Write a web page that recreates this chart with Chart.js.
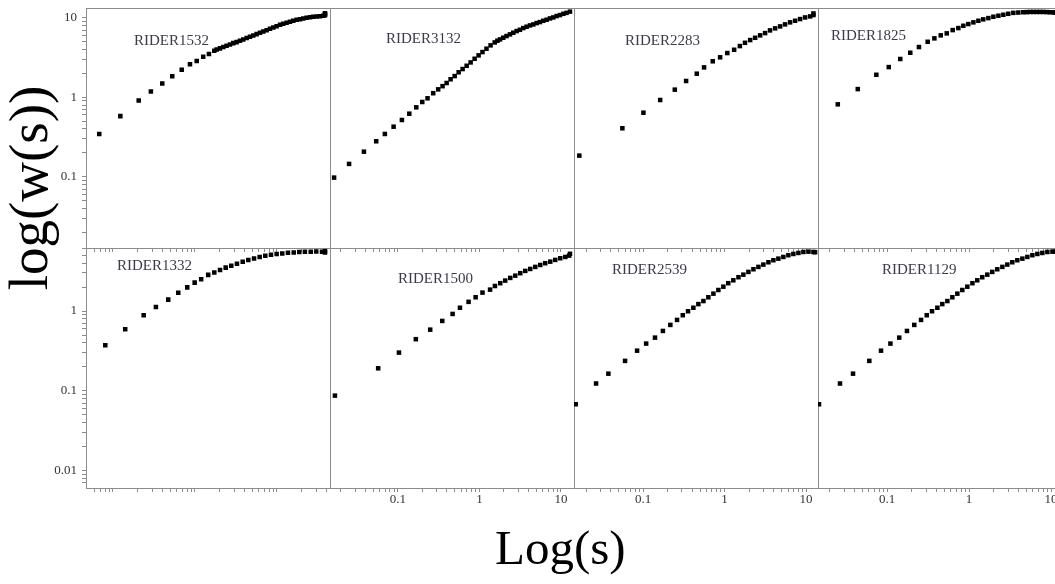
<!DOCTYPE html>
<html lang="en">
<head>
<meta charset="UTF-8">
<title>log(w(s)) vs Log(s)</title>
<script src="https://cdn.jsdelivr.net/npm/chart.js"></script>
<style>
  html, body { margin: 0; padding: 0; background: #fff; }
  body { width: 1055px; height: 584px; position: relative; overflow: hidden; font-family: 'Liberation Serif', 'DejaVu Serif', serif; }
  canvas { position: absolute; }
  .rider { position: absolute; font-size: 15px; line-height: 1; color: #3b3b48; white-space: nowrap; }
  #ytitle { position: absolute; left: 28px; top: 188px; font-size: 55px; line-height: 1; white-space: nowrap;
            transform: translate(-50%, -50%) rotate(-90deg); }
  #xtitle { position: absolute; left: 495px; top: 523px; font-size: 49px; line-height: 1; white-space: nowrap; }
</style>
</head>
<body>
<div id="ytitle">log(w(s))</div>
<div id="xtitle">Log(s)</div>
<script>
// --- data: s (x) and w(s) (y) per rider ---
const s1532 = [0.068,0.123,0.206,0.29,0.399,0.528,0.689,0.869,1.05,1.26,1.48,1.72,1.84,2.02,2.22,2.43,2.67,2.93,3.22,3.54,3.88,4.27,4.69,5.14,5.65,6.21,6.81,7.48,8.22,9.02,9.91,10.9,11.9,13.1,14.4,15.8,17.4,19.1,20.9,23.0,25.3,27.7,30.5,33.4,36.7,38.5,38.5,38.5];
const w1532 = [0.345,0.58,0.91,1.18,1.49,1.84,2.23,2.6,2.87,3.25,3.51,3.86,4.01,4.13,4.29,4.46,4.63,4.81,4.95,5.15,5.35,5.56,5.78,6.01,6.24,6.49,6.75,7.0,7.28,7.57,7.86,8.17,8.41,8.66,8.91,9.17,9.44,9.62,9.81,10.0,10.2,10.3,10.4,10.5,10.6,10.8,11.1,11.4];

const s3132 = [0.0165,0.0252,0.0383,0.0542,0.0692,0.0886,0.112,0.138,0.168,0.199,0.231,0.271,0.312,0.353,0.396,0.443,0.497,0.556,0.622,0.697,0.780,0.873,0.977,1.09,1.22,1.37,1.54,1.66,1.79,1.96,2.15,2.37,2.60,2.86,3.14,3.45,3.79,4.17,4.58,5.03,5.52,6.07,6.67,7.33,8.05,8.85,9.72,10.7,11.7,12.9];
const w3132 = [0.097,0.144,0.205,0.277,0.342,0.422,0.512,0.614,0.738,0.861,0.958,1.11,1.24,1.36,1.49,1.66,1.82,2.03,2.23,2.45,2.70,3.0,3.31,3.64,4.01,4.42,4.81,5.05,5.25,5.51,5.78,6.07,6.36,6.68,6.93,7.28,7.57,7.86,8.09,8.41,8.66,8.99,9.26,9.62,9.9,10.3,10.6,11.0,11.3,11.7];

const s2283 = [0.0165,0.0557,0.101,0.162,0.245,0.337,0.456,0.56,0.716,0.881,1.08,1.31,1.54,1.78,2.06,2.37,2.73,3.14,3.61,4.17,4.80,5.52,6.36,7.33,8.44,9.72,11.2,12.3,12.3];
const w2283 = [0.183,0.403,0.632,0.912,1.23,1.58,1.95,2.34,2.79,3.13,3.54,3.89,4.33,4.76,5.15,5.5,5.9,6.3,6.81,7.22,7.64,8.1,8.59,8.99,9.44,9.9,10.2,10.6,11.1];

const s1825 = [0.0251,0.044,0.0741,0.105,0.145,0.192,0.245,0.313,0.378,0.452,0.535,0.632,0.741,0.852,0.98,1.13,1.30,1.49,1.72,1.98,2.28,2.62,3.01,3.47,3.99,4.59,5.06,5.55,6.08,6.7,7.34,8.05,8.87,9.72,10.7,11.2];
const w1825 = [0.805,1.25,1.89,2.36,2.98,3.57,4.21,4.9,5.41,5.9,6.25,6.87,7.28,7.78,8.17,8.59,8.99,9.36,9.71,10.1,10.4,10.7,11.0,11.3,11.4,11.5,11.55,11.6,11.6,11.6,11.6,11.6,11.55,11.5,11.45,11.4];

const s1332 = [0.0806,0.141,0.237,0.334,0.472,0.625,0.805,0.991,1.19,1.45,1.72,2.02,2.37,2.77,3.25,3.82,4.47,5.25,6.15,7.2,8.45,9.91,11.6,13.6,16.0,18.7,21.9,25.8,30.1,35.4,38.5,38.5];
const w1332 = [0.373,0.592,0.886,1.12,1.39,1.70,1.98,2.27,2.5,2.84,3.05,3.27,3.5,3.7,3.92,4.16,4.37,4.57,4.76,4.94,5.08,5.19,5.28,5.38,5.43,5.5,5.54,5.54,5.59,5.54,5.43,5.7];

const s1500 = [0.0169,0.0573,0.103,0.166,0.249,0.350,0.469,0.577,0.736,0.898,1.09,1.35,1.55,1.80,2.07,2.39,2.75,3.17,3.65,4.2,4.84,5.57,6.41,7.39,8.51,9.8,11.3,12.6,12.9];
const w1500 = [0.0861,0.189,0.297,0.437,0.575,0.739,0.904,1.08,1.28,1.46,1.67,1.82,2.02,2.19,2.36,2.55,2.72,2.92,3.12,3.3,3.5,3.7,3.89,4.07,4.28,4.49,4.66,4.84,5.1];

const s2539 = [0.0149,0.0265,0.0375,0.0601,0.0844,0.109,0.140,0.175,0.216,0.261,0.307,0.356,0.414,0.477,0.55,0.632,0.729,0.839,0.966,1.11,1.28,1.48,1.70,1.96,2.26,2.60,2.99,3.45,3.97,4.57,5.26,6.06,6.98,8.05,9.27,10.7,12.3,12.9];
const w2539 = [0.0672,0.122,0.162,0.234,0.314,0.385,0.457,0.554,0.659,0.761,0.871,0.977,1.08,1.2,1.31,1.46,1.62,1.8,1.98,2.19,2.38,2.6,2.8,3.03,3.27,3.5,3.74,4.0,4.24,4.44,4.66,4.9,5.08,5.23,5.38,5.43,5.38,5.34];

const s1129 = [0.0148,0.0267,0.0385,0.0608,0.0845,0.11,0.141,0.175,0.215,0.26,0.305,0.354,0.411,0.472,0.544,0.626,0.72,0.828,0.953,1.1,1.26,1.45,1.67,1.92,2.21,2.55,2.93,3.37,3.88,4.47,5.14,5.92,6.81,7.83,9.02,10.4,11.2];
const w1129 = [0.0672,0.122,0.162,0.234,0.314,0.385,0.457,0.554,0.659,0.761,0.871,0.977,1.08,1.2,1.31,1.46,1.62,1.8,1.98,2.19,2.38,2.6,2.8,3.03,3.27,3.5,3.74,4.0,4.24,4.44,4.66,4.9,5.08,5.23,5.38,5.43,5.43];

// axis limits (per column for x, per row for y)
const xMin = [0.0469, 0.0147, 0.0142, 0.0144];
const xMax = [44.3, 14.45, 14.0, 13.6];
const yMin = [0.0127, 0.00603];
const yMax = [13.0, 6.03];

const panels = [
  { name: 'RIDER1532', s: s1532, w: w1532, col: 0, row: 0 },
  { name: 'RIDER3132', s: s3132, w: w3132, col: 1, row: 0 },
  { name: 'RIDER2283', s: s2283, w: w2283, col: 2, row: 0 },
  { name: 'RIDER1825', s: s1825, w: w1825, col: 3, row: 0 },
  { name: 'RIDER1332', s: s1332, w: w1332, col: 0, row: 1 },
  { name: 'RIDER1500', s: s1500, w: w1500, col: 1, row: 1 },
  { name: 'RIDER2539', s: s2539, w: w2539, col: 2, row: 1 },
  { name: 'RIDER1129', s: s1129, w: w1129, col: 3, row: 1 }
];

// layout
const colLeft = [86, 330, 574, 818];
const rowTop = [8, 248];
const panelW = 244, panelH = 240;
const axisW = 70, axisH = 30, padTop = 12, padRight = 12;
const labelPos = [[134, 33], [386, 31], [625, 33], [831, 28], [117, 258], [398, 271], [612, 262], [882, 262]];

const AXIS = '#8c8c8c';
const TICKFONT = { family: "'Liberation Serif', 'DejaVu Serif', serif", size: 13 };

function isWhole(v) {
  const e = Math.floor(Math.log10(v) + 1e-9);
  const m = v / Math.pow(10, e);
  return Math.abs(m - Math.round(m)) < 1e-6;
}
function decadeLabel(v) {
  const l = Math.log10(v);
  return Math.abs(l - Math.round(l)) < 1e-6 ? String(Number(v.toPrecision(1))) : '';
}
const tickColor = ctx => (ctx.tick && isWhole(ctx.tick.value)) ? AXIS : 'rgba(0,0,0,0)';

panels.forEach(function (p, i) {
  const cv = document.createElement('canvas');
  cv.width = axisW + panelW + padRight;
  cv.height = padTop + panelH + axisH;
  cv.style.left = (colLeft[p.col] - axisW) + 'px';
  cv.style.top = (rowTop[p.row] - padTop) + 'px';
  document.body.appendChild(cv);

  const lab = document.createElement('div');
  lab.className = 'rider';
  lab.textContent = p.name;
  lab.style.left = labelPos[i][0] + 'px';
  lab.style.top = labelPos[i][1] + 'px';
  document.body.appendChild(lab);

  const pts = p.s.map((v, k) => ({ x: v, y: p.w[k] }));
  const showY = p.col === 0;
  const showXLabels = p.row === 1 && p.col > 0;

  const scales = {
    x: {
      type: 'logarithmic', position: 'bottom',
      min: xMin[p.col], max: xMax[p.col],
      border: { display: true, color: AXIS, width: 1 },
      grid: { drawOnChartArea: false, drawTicks: true, tickLength: 4, tickColor: tickColor },
      ticks: { display: showXLabels, autoSkip: false, maxRotation: 0, padding: 0,
               color: '#333', font: TICKFONT, callback: decadeLabel },
      afterFit: function (sc) { sc.height = axisH; }
    },
    y: {
      type: 'logarithmic', position: 'left',
      min: yMin[p.row], max: yMax[p.row],
      border: { display: true, color: AXIS, width: 1 },
      grid: { drawOnChartArea: false, drawTicks: showY, tickLength: 4, tickColor: tickColor },
      ticks: { display: showY, autoSkip: false, padding: 5,
               color: '#333', font: TICKFONT, callback: decadeLabel },
      afterFit: function (sc) { sc.width = axisW; }
    }
  };
  if (p.row === 0) {
    // top frame line
    scales.x2 = {
      type: 'linear', position: 'top', min: 0, max: 1,
      border: { display: true, color: AXIS, width: 1 },
      grid: { drawOnChartArea: false, drawTicks: false },
      ticks: { display: false },
      afterFit: function (sc) { sc.height = 0; }
    };
  }

  new Chart(cv, {
    type: 'scatter',
    data: {
      datasets: [{
        label: p.name,
        data: pts,
        pointStyle: 'rect',
        pointRadius: 3.2,
        pointHoverRadius: 3.2,
        backgroundColor: '#000',
        borderColor: '#000',
        borderWidth: 0
      }]
    },
    options: {
      responsive: false,
      animation: false,
      layout: { padding: { top: padTop, right: padRight, left: 0, bottom: 0 } },
      plugins: { legend: { display: false }, tooltip: { enabled: false } },
      scales: scales
    }
  });
});
</script>
</body>
</html>
